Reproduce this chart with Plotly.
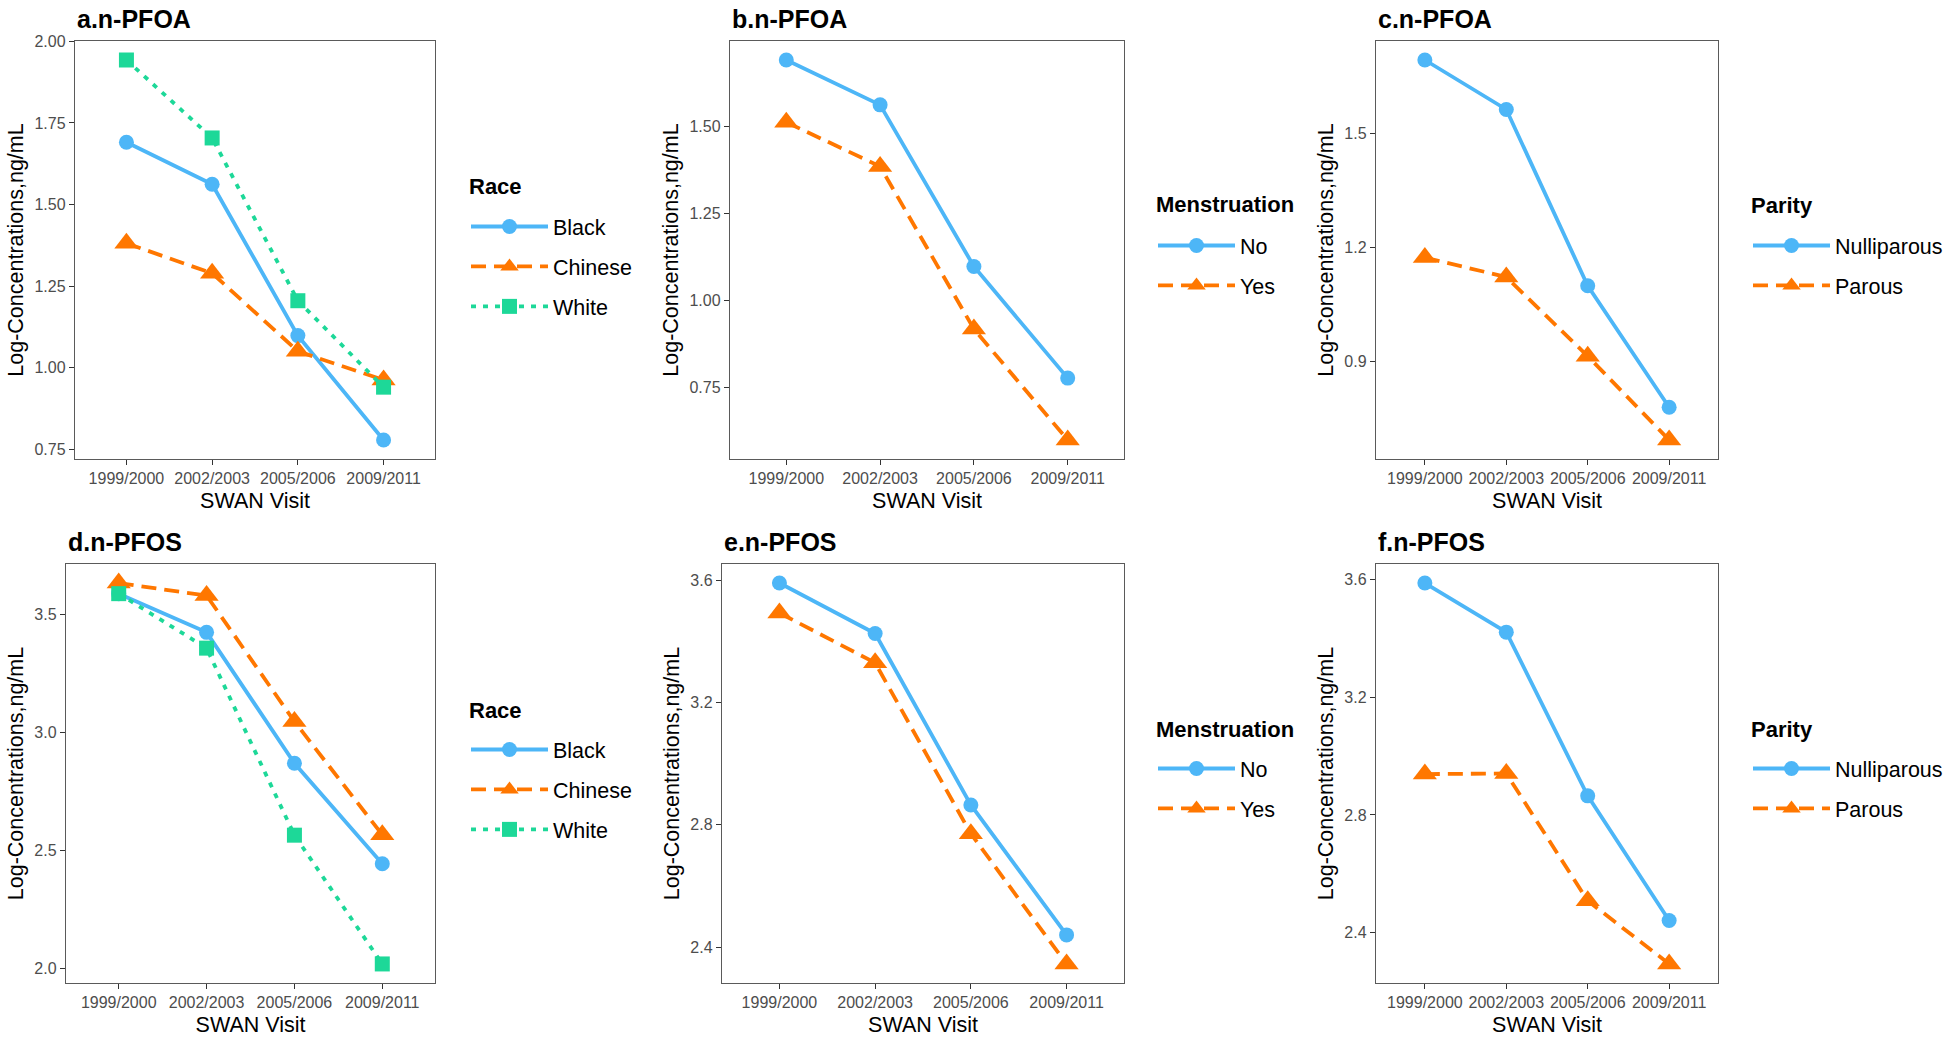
import plotly.graph_objects as go

# ---------------- data ----------------
visits = ["1999/2000", "2002/2003", "2005/2006", "2009/2011"]

# a. n-PFOA by Race
a_black = [1.691, 1.562, 1.098, 0.778]
a_chinese = [1.381, 1.289, 1.050, 0.962]
a_white = [1.943, 1.704, 1.205, 0.940]
# b. n-PFOA by Menstruation
b_no = [1.692, 1.563, 1.098, 0.777]
b_yes = [1.513, 1.386, 0.918, 0.599]
# c. n-PFOA by Parity
c_nulli = [1.692, 1.562, 1.099, 0.780]
c_parous = [1.173, 1.122, 0.914, 0.694]
# d. n-PFOS by Race
d_black = [3.588, 3.424, 2.869, 2.443]
d_chinese = [3.633, 3.580, 3.046, 2.566]
d_white = [3.588, 3.357, 2.564, 2.018]
# e. n-PFOS by Menstruation
e_no = [3.591, 3.426, 2.865, 2.440]
e_yes = [3.493, 3.330, 2.771, 2.345]
# f. n-PFOS by Parity
f_nulli = [3.589, 3.422, 2.865, 2.441]
f_parous = [2.939, 2.941, 2.508, 2.293]

panel_titles = ["a.n-PFOA", "b.n-PFOA", "c.n-PFOA", "d.n-PFOS", "e.n-PFOS", "f.n-PFOS"]
legend_titles = ["Race", "Menstruation", "Parity", "Race", "Menstruation", "Parity"]
ticks_a = [0.75, 1.00, 1.25, 1.50, 1.75, 2.00]
ticks_b = [0.75, 1.00, 1.25, 1.50]
ticks_c = [0.9, 1.2, 1.5]
ticks_d = [2.0, 2.5, 3.0, 3.5]
ticks_e = [2.4, 2.8, 3.2, 3.6]
ticks_f = [2.4, 2.8, 3.2, 3.6]

# ---------------- styles ----------------
BLUE = "#4DB6F7"
ORANGE = "#FF7700"
GREEN = "#1DD898"
FONT = "Liberation Sans, Arial, sans-serif"
W, H = 1950, 1040

styles = {
    "Black": dict(color=BLUE, dash="solid", symbol="circle", size=15),
    "No": dict(color=BLUE, dash="solid", symbol="circle", size=15),
    "Nulliparous": dict(color=BLUE, dash="solid", symbol="circle", size=15),
    "Chinese": dict(color=ORANGE, dash="15px,8px", symbol="triangle-up", size=21),
    "Yes": dict(color=ORANGE, dash="15px,8px", symbol="triangle-up", size=21),
    "Parous": dict(color=ORANGE, dash="15px,8px", symbol="triangle-up", size=21),
    "White": dict(color=GREEN, dash="5px,7px", symbol="square", size=15),
}

# box = (left, right, top, bottom) px; leg = (title x, title y, first item y) px
panels = [
    dict(series=[("Black", a_black), ("Chinese", a_chinese), ("White", a_white)], ticks=ticks_a, fmt=".2f",
         box=(75, 435, 41, 459), leg=(467, 186, 226)),
    dict(series=[("No", b_no), ("Yes", b_yes)], ticks=ticks_b, fmt=".2f",
         box=(730, 1124, 41, 459), leg=(1154, 205, 245)),
    dict(series=[("Nulliparous", c_nulli), ("Parous", c_parous)], ticks=ticks_c, fmt=".1f",
         box=(1376, 1718, 41, 459), leg=(1749, 206, 245)),
    dict(series=[("Black", d_black), ("Chinese", d_chinese), ("White", d_white)], ticks=ticks_d, fmt=".1f",
         box=(66, 435, 564, 983), leg=(467, 710, 749)),
    dict(series=[("No", e_no), ("Yes", e_yes)], ticks=ticks_e, fmt=".1f",
         box=(722, 1124, 564, 983), leg=(1154, 729, 768)),
    dict(series=[("Nulliparous", f_nulli), ("Parous", f_parous)], ticks=ticks_f, fmt=".1f",
         box=(1376, 1718, 564, 983), leg=(1749, 729, 768)),
]

fig = go.Figure()
annotations = []
for i, p in enumerate(panels):
    n = i + 1
    xa = "x" if n == 1 else f"x{n}"
    ya = "y" if n == 1 else f"y{n}"
    legname = "legend" if n == 1 else f"legend{n}"
    allv = []
    for name, vals in p["series"]:
        st = styles[name]
        allv += vals
        fig.add_trace(go.Scatter(
            x=visits, y=vals, name=name, mode="lines+markers",
            xaxis=xa, yaxis=ya, legend=legname, legendgroup=f"{n}_{name}",
            line=dict(color=st["color"], width=3.8, dash=st["dash"]),
            marker=dict(color=st["color"], symbol=st["symbol"], size=st["size"], line=dict(width=0)),
            showlegend=True,
        ))
    lo, hi = min(allv), max(allv)
    pad = (hi - lo) * 0.05
    x0, x1, y0, y1 = p["box"]
    axcommon = dict(showgrid=False, zeroline=False, showline=True, mirror=True,
                    linecolor="#5a5a5a", linewidth=1.4, ticks="outside", ticklen=5,
                    tickwidth=1.2, tickcolor="#333333",
                    tickfont=dict(family=FONT, size=16, color="#4D4D4D"))
    fig.layout[f"xaxis{'' if n == 1 else n}"] = dict(
        domain=[x0 / W, x1 / W], anchor=ya, type="category", range=[-0.6, 3.6],
        title=dict(text="SWAN Visit", font=dict(family=FONT, size=21.5, color="#000"), standoff=6),
        automargin=False, **axcommon)
    fig.layout[f"yaxis{'' if n == 1 else n}"] = dict(
        domain=[1 - y1 / H, 1 - y0 / H], anchor=xa, range=[lo - pad, hi + pad],
        tickvals=p["ticks"], tickformat=p["fmt"],
        title=dict(text="Log-Concentrations,ng/mL", font=dict(family=FONT, size=21.5, color="#000"), standoff=4),
        automargin=False, **axcommon)
    tx, ty, iy = p["leg"]
    fig.layout[legname] = dict(
        x=(tx - 1) / W, y=1 - (iy - 20) / H, xanchor="left", yanchor="top",
        font=dict(family=FONT, size=21.5, color="#000"),
        bgcolor="rgba(0,0,0,0)", borderwidth=0, itemwidth=77,
        tracegroupgap=9, traceorder="grouped", itemclick=False, itemdoubleclick=False,
    )
    # legend title
    annotations.append(dict(
        text=f"<b>{legend_titles[i]}</b>", xref="paper", yref="paper",
        x=tx / W, y=1 - ty / H, xanchor="left", yanchor="middle", showarrow=False,
        font=dict(family=FONT, size=22, color="#000"),
    ))
    # panel title
    annotations.append(dict(
        text=f"<b>{panel_titles[i]}</b>", xref="paper", yref="paper",
        x=x0 / W, y=1 - (y0 - 22) / H, xanchor="left", yanchor="middle", showarrow=False,
        font=dict(family=FONT, size=25, color="#000"),
    ))

fig.update_layout(
    width=W, height=H, margin=dict(l=0, r=0, t=0, b=0),
    paper_bgcolor="white", plot_bgcolor="white",
    annotations=annotations, showlegend=True,
    font=dict(family=FONT),
)

fig.write_html("out.html", config={"displayModeBar": False},
               post_script="document.body.style.margin='0px';")
